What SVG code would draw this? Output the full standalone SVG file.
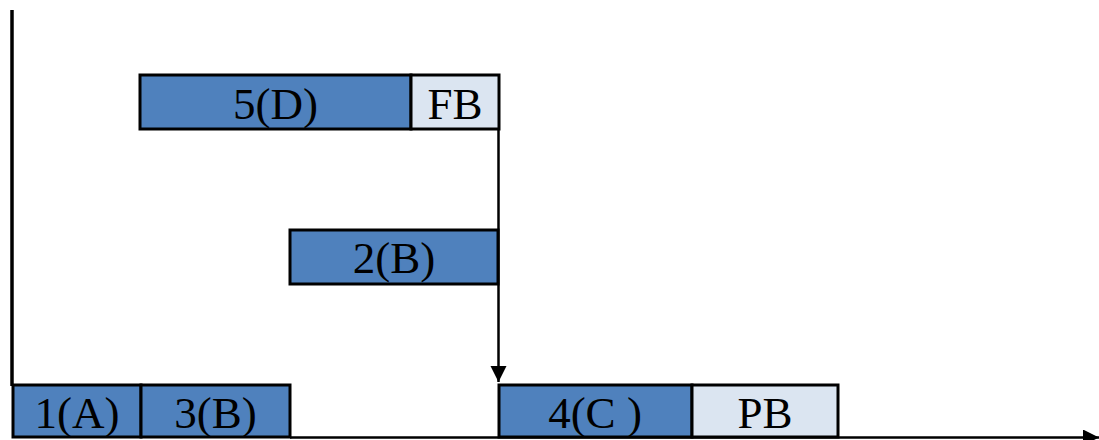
<svg xmlns="http://www.w3.org/2000/svg" width="1099" height="440" viewBox="0 0 1099 440">
<style>
.b{fill:#4f81bd;stroke:#000;stroke-width:3}
.l{fill:#dbe5f1;stroke:#000;stroke-width:3}
text{font-family:"Liberation Serif","Times New Roman",serif;font-size:45px;fill:#000;text-anchor:middle}
.ax{stroke:#000;fill:none}
</style>
<defs>
<marker id="ah" markerWidth="18" markerHeight="18" refX="16" refY="8" orient="auto" markerUnits="userSpaceOnUse">
<path d="M0,0 L16,8 L0,16 Z" fill="#000"/>
</marker>
</defs>
<g id="connectors">
<line class="ax" x1="12" y1="10" x2="12" y2="386" stroke-width="3.5"/>
<line class="ax" x1="290" y1="437.5" x2="1099" y2="437.5" stroke-width="2.5" marker-end="url(#ah)"/>
<line class="ax" x1="498.5" y1="129" x2="498.5" y2="382" stroke-width="2.5" marker-end="url(#ah)"/>
</g>
<g id="n5D"><rect class="b" x="140" y="75" width="271" height="54"/><text x="275.5" y="119">5(D)</text></g>
<g id="nFB"><rect class="l" x="411" y="75" width="88" height="54"/><text x="455" y="119">FB</text></g>
<g id="n2B"><rect class="b" x="290" y="230" width="208" height="54"/><text x="394" y="273">2(B)</text></g>
<g id="n1A"><rect class="b" x="13" y="385" width="128" height="52"/><text x="77" y="428">1(A)</text></g>
<g id="n3B"><rect class="b" x="141" y="385" width="149" height="52"/><text x="215.5" y="428">3(B)</text></g>
<g id="n4C"><rect class="b" x="499" y="385" width="193" height="52"/><text x="595" y="428">4(C )</text></g>
<g id="nPB"><rect class="l" x="692" y="385" width="146" height="52"/><text x="765" y="428">PB</text></g>
</svg>
